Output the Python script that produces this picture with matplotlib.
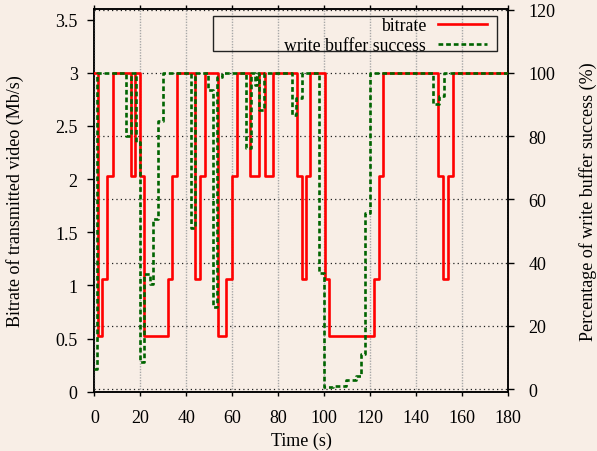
import matplotlib
matplotlib.use("Agg")
import matplotlib.pyplot as plt
from matplotlib.patches import Rectangle

# ---- data ----
bitrate_t = [0, 1.7, 3.2, 5.7, 8.0, 15.8, 17.7, 19.9, 21.8, 32.0, 33.7, 36.1,
             43.8, 46.0, 48.2, 54.0, 57.5, 59.8, 62.0, 67.8, 71.9, 74.1, 77.8,
             88.1, 90.6, 92.2, 93.9, 100.3, 102.3, 121.9, 124.1, 125.8,
             149.8, 151.9, 153.9, 156.0, 180]
bitrate_v = [3.0, 0.52, 1.06, 2.03, 3.0, 2.03, 3.0, 2.03, 0.52, 1.06, 2.03, 3.0,
             1.06, 2.03, 3.0, 0.52, 1.06, 2.03, 3.0, 2.03, 3.0, 2.03, 3.0,
             2.03, 1.06, 2.03, 3.0, 1.06, 0.52, 1.06, 2.03, 3.0,
             2.03, 1.06, 2.03, 3.0, 3.0]

buffer_t = [0, 1.3, 13.8, 15.8, 18.2, 19.9, 21.6, 24.2, 25.7, 27.9, 29.8,
            42.2, 43.8, 49.6, 51.8, 53.6, 55.7, 66.0, 68.1, 70.0, 70.9, 71.7,
            73.9, 85.9, 87.8, 90.3, 98.0, 100.0, 104.0, 109.6, 113.9, 116.0,
            117.9, 120.1, 147.6, 150.2, 152.2, 180]
buffer_v = [6.3, 100, 80, 100, 78, 8.4, 36.3, 33.2, 53.7, 84.7, 100,
            51, 100, 94.5, 25.8, 98.6, 100, 76.3, 100, 96.3, 100, 88.4,
            100, 86.8, 92.1, 100, 36.6, 0.5, 1.0, 2.9, 4.2, 11,
            55.8, 100, 90.3, 92.8, 100, 100]

x_ticks = [0, 20, 40, 60, 80, 100, 120, 140, 160, 180]
left_ticks = [0, 0.5, 1, 1.5, 2, 2.5, 3, 3.5]
left_labels = ["0", "0.5", "1", "1.5", "2", "2.5", "3", "3.5"]
right_ticks = [0, 20, 40, 60, 80, 100, 120]

series_labels = ["bitrate", "write buffer success"]
xlabel = "Time (s)"
ylabel_left = "Bitrate of transmitted video (Mb/s)"
ylabel_right = "Percentage of write buffer success (%)"

# ---- style ----
plt.rcParams['font.family'] = ['Liberation Serif', 'DejaVu Serif']
BG = '#F8EEE6'
RED = '#FF0000'
GREEN = '#006400'
FS = 13

fig = plt.figure(figsize=(5.97, 4.52), dpi=100, facecolor=BG)
ax = fig.add_axes([0.158, 0.1312, 0.6925, 0.8467])
ax2 = ax.twinx()

ax.set_zorder(2)
ax2.set_zorder(1)
ax.patch.set_visible(False)
ax2.patch.set_visible(False)

ax.set_xlim(0, 180)
ax.set_ylim(0, 3.6)
ax2.set_ylim(-0.85, 120.2)

# grids
ax.set_xticks(x_ticks)
ax.grid(axis='x', color='#a8a8a8', linestyle=(0, (1, 1)), linewidth=1.0)
ax2.set_yticks(right_ticks)
ax2.grid(axis='y', color='#202020', linestyle=(0, (1, 2.5)), linewidth=0.9)

# data lines
l1, = ax.step(bitrate_t, bitrate_v, where='post', color=RED, linewidth=1.9,
              zorder=3, label=series_labels[0])
l2, = ax.step(buffer_t, buffer_v, where='post', color=GREEN, linewidth=1.9,
              linestyle=(0, (1.8, 1.1)), transform=ax2.transData, zorder=4,
              label=series_labels[1])
ax.set_xlim(0, 180)
ax.set_ylim(0, 3.6)

# ticks
ax.set_yticks(left_ticks)
ax.set_yticklabels(left_labels)
ax.tick_params(axis='y', direction='out', length=5, width=1, pad=7,
               labelsize=FS, colors='black')
ax.tick_params(axis='x', direction='out', length=3.2, width=1, pad=9.2,
               labelsize=FS, top=True, colors='black')
ax2.tick_params(axis='y', direction='out', length=4.3, width=1, pad=10.5,
                labelsize=FS, colors='black')

for a in (ax, ax2):
    for s in a.spines.values():
        s.set_linewidth(1.1)
        s.set_color('black')

# axis labels
ax.set_xlabel(xlabel, fontsize=FS)
ax.xaxis.set_label_coords(0.5, -0.1053)
ax.set_ylabel(ylabel_left, fontsize=FS)
ax.yaxis.set_label_coords(-0.169, 0.5)
ax2.set_ylabel(ylabel_right, fontsize=FS, rotation=90)
ax2.yaxis.set_label_coords(1.173, 0.5)

# legend (gnuplot-style wide frame)
frame = Rectangle((0.2864, 0.8895), 0.687, 0.093, transform=ax.transAxes,
                  fill=False, edgecolor='#222222', linewidth=1.0, zorder=5)
ax.add_patch(frame)
leg = ax.legend(handles=[l1, l2], loc='upper right',
                bbox_to_anchor=(0.9492, 0.9785), frameon=False,
                markerfirst=False, fontsize=12.8, borderpad=0,
                borderaxespad=0, handlelength=2.72, handletextpad=0.69,
                labelspacing=0.15)
for col in leg._legend_handle_box.get_children():
    col.align = 'right'
leg.set_zorder(6)

fig.savefig('out.png', dpi=100, facecolor=BG)
